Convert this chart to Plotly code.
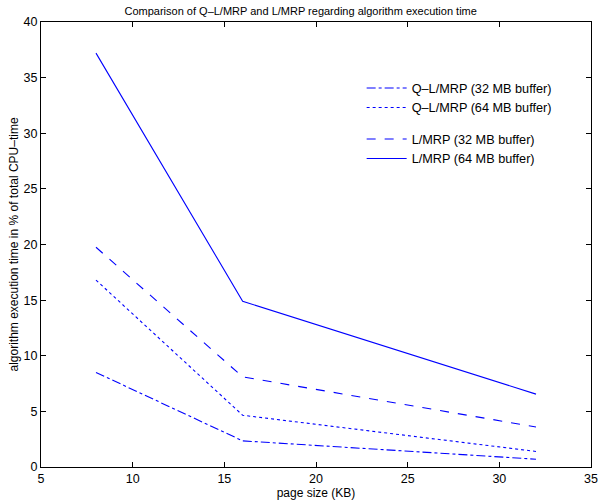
import plotly.graph_objects as go

page_size = [8, 16, 32]
qlmrp_32 = [8.5, 2.35, 0.7]
qlmrp_64 = [16.8, 4.65, 1.4]
lmrp_32 = [19.75, 8.1, 3.6]
lmrp_64 = [37.2, 14.9, 6.55]

series = [
    ("Q\u2013L/MRP (32 MB buffer)", qlmrp_32, "dashdot", "g1"),
    ("Q\u2013L/MRP (64 MB buffer)", qlmrp_64, "dot", "g1"),
    ("L/MRP (32 MB buffer)", lmrp_32, "dash", "g2"),
    ("L/MRP (64 MB buffer)", lmrp_64, "solid", "g2"),
]

fig = go.Figure()
for name, ys, dash, grp in series:
    fig.add_trace(go.Scatter(
        x=page_size, y=ys, mode="lines", name=name, legendgroup=grp,
        line=dict(color="#0000ff", width=1.1, dash=dash),
    ))

axis_common = dict(
    showgrid=False, zeroline=False, showline=True, mirror="ticks",
    linecolor="black", linewidth=1.3, ticks="inside", ticklen=5,
    tickcolor="black", tickfont=dict(size=12.5, color="black"),
    title_font=dict(size=12, color="black"),
)

fig.update_layout(
    width=605, height=504,
    margin=dict(l=41, r=7, t=22, b=36),
    paper_bgcolor="white", plot_bgcolor="white",
    font=dict(family="Liberation Sans, Arial, sans-serif", color="black"),
    title=dict(text="Comparison of Q\u2013L/MRP and L/MRP regarding algorithm execution time",
               x=0.497, xanchor="center", y=0.985, yanchor="top",
               font=dict(size=11, color="black")),
    xaxis=dict(range=[5, 35], dtick=5, title=dict(text="page size (KB)", standoff=2), **axis_common),
    yaxis=dict(range=[0, 40], dtick=5, title=dict(text="algorithm execution time in % of total CPU\u2013time", standoff=2), **axis_common),
    legend=dict(x=0.583, y=0.885, xanchor="left", yanchor="top",
                bgcolor="rgba(0,0,0,0)", borderwidth=0,
                font=dict(size=12.7, color="black"),
                traceorder="grouped", tracegroupgap=12, itemwidth=40),
    showlegend=True,
)

fig.write_html("out.html")
